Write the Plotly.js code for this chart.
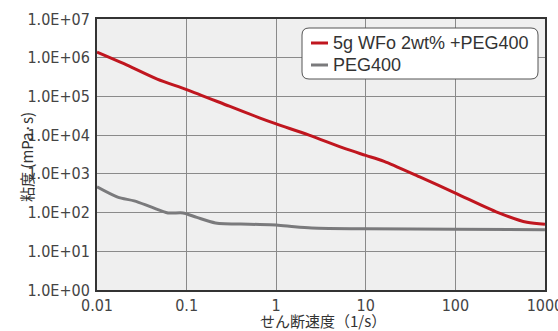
<!DOCTYPE html>
<html><head><meta charset="utf-8">
<script src="https://cdn.plot.ly/plotly-3.0.1.min.js"></script>
<style>html,body{margin:0;padding:0;background:#fff}#c{width:558px;height:331px}</style>
</head><body><div id="c"></div>
<script>
const shearRate = [0.01, 0.02, 0.047, 0.1, 0.3, 0.65, 1, 2.33, 6, 10, 16, 40, 100, 300, 630, 1000];
const viscWFo = [1.4e6, 7.0e5, 2.8e5, 1.5e5, 5.6e4, 2.8e4, 1.95e4, 1.0e4, 4.4e3, 3.0e3, 2.1e3, 8.3e2, 3.2e2, 1.0e2, 5.6e1, 5.0e1];
const shearRatePEG = [0.01, 0.017, 0.026, 0.04, 0.062, 0.091, 0.13, 0.21, 0.5, 1, 1.6, 2.5, 10, 100, 1000];
const viscPEG = [460, 250, 200, 140, 98, 98, 75, 54, 50, 48, 43, 40, 38, 37, 36];
const yTickVals = [1, 10, 100, 1e3, 1e4, 1e5, 1e6, 1e7];
const yTickText = ["1.0E+00","1.0E+01","1.0E+02","1.0E+03","1.0E+04","1.0E+05","1.0E+06","1.0E+07"];
const xTickVals = [0.01, 0.1, 1, 10, 100, 1000];
const xTickText = ["0.01","0.1","1","10","100","1000"];
const seriesNames = ["5g WFo 2wt% +PEG400", "PEG400"];
const seriesColors = ["#c0161f", "#7a7a7c"];
const xTitle = "せん断速度（1/s）";
const yTitle = "粘度 (mPa·s)";

const narrow = "Liberation Sans Narrow, DejaVu Sans Condensed, Arial Narrow, sans-serif";
const W = 448, H = 271, L = 97, T = 19;
const toX = p => (p-L)/W, toY = p => 1-(p-T)/H;
function rr(x0,y0,x1,y1,r){
  return `M ${toX(x0+r)} ${toY(y0)} L ${toX(x1-r)} ${toY(y0)} Q ${toX(x1)} ${toY(y0)} ${toX(x1)} ${toY(y0+r)} ` +
    `L ${toX(x1)} ${toY(y1-r)} Q ${toX(x1)} ${toY(y1)} ${toX(x1-r)} ${toY(y1)} ` +
    `L ${toX(x0+r)} ${toY(y1)} Q ${toX(x0)} ${toY(y1)} ${toX(x0)} ${toY(y1-r)} ` +
    `L ${toX(x0)} ${toY(y0+r)} Q ${toX(x0)} ${toY(y0)} ${toX(x0+r)} ${toY(y0)} Z`;
}

const traces = [
  {x: shearRate, y: viscWFo, name: seriesNames[0], mode: "lines", line: {color: seriesColors[0], width: 3, shape: "spline", smoothing: 0.8}},
  {x: shearRatePEG, y: viscPEG, name: seriesNames[1], mode: "lines", line: {color: seriesColors[1], width: 3, shape: "spline", smoothing: 0.8}}
];
const legendRows = [43, 65];
const shapes = [{type: "path", xref: "paper", yref: "paper", path: rr(302, 28, 538, 79, 7),
    fillcolor: "#ffffff", line: {color: "#555", width: 1}, layer: "above"}];
const annotations = [];
seriesNames.forEach((n, i) => {
  shapes.push({type: "line", xref: "paper", yref: "paper", x0: toX(311), x1: toX(328), y0: toY(legendRows[i]), y1: toY(legendRows[i]),
    line: {color: seriesColors[i], width: 3}, layer: "above"});
  annotations.push({text: n, xref: "paper", yref: "paper", x: toX(331), y: toY(legendRows[i]), xanchor: "left", yanchor: "middle",
    showarrow: false, font: {family: "Liberation Sans, Arial, sans-serif", size: 18, color: "#333"}});
});
annotations.push({text: xTitle, xref: "paper", yref: "paper", x: toX(323), y: toY(320), xanchor: "center", yanchor: "middle",
  showarrow: false, font: {family: "Noto Sans CJK JP, sans-serif", size: 15, color: "#333"}});
annotations.push({text: yTitle, xref: "paper", yref: "paper", x: toX(26), y: toY(157), xanchor: "center", yanchor: "middle",
  textangle: -90, showarrow: false, font: {family: "Noto Sans CJK JP, sans-serif", size: 15, color: "#333"}});

const layout = {
  width: 558, height: 331,
  margin: {l: L, r: 13, t: T, b: 41},
  paper_bgcolor: "#ffffff", plot_bgcolor: "#efefef",
  showlegend: false,
  xaxis: {type: "log", range: [-2, 3.0004], tickvals: xTickVals, ticktext: xTickText, ticks: "",
    ticklabeloverflow: "allow", ticklabelstandoff: 0,
    showgrid: true, gridcolor: "#8a8a8a", gridwidth: 1, showline: true, linecolor: "#333", linewidth: 2, mirror: true,
    zeroline: false, tickfont: {family: narrow, size: 16, color: "#444"}},
  yaxis: {type: "log", range: [0, 7], tickvals: yTickVals, ticktext: yTickText, ticks: "",
    showgrid: true, gridcolor: "#8a8a8a", gridwidth: 1, showline: true, linecolor: "#333", linewidth: 2, mirror: true,
    zeroline: false, tickfont: {family: narrow, size: 16, color: "#444"}, ticklabelstandoff: 2},
  shapes: shapes,
  annotations: annotations
};
Plotly.newPlot("c", traces, layout, {displayModeBar: false, staticPlot: true});
</script></body></html>
